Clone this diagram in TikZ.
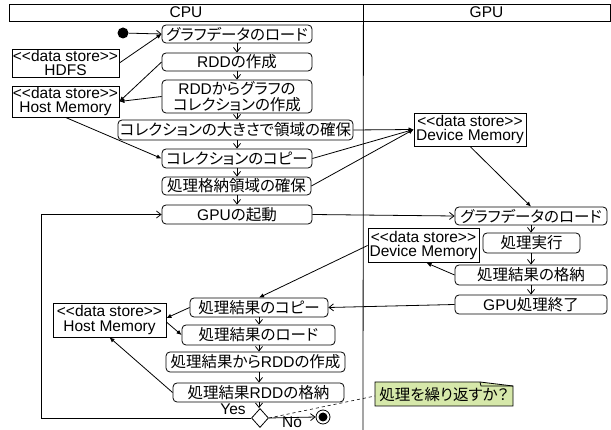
\documentclass[tikz,border=0pt]{standalone}
\usepackage{fontspec}
\setmainfont{Liberation Sans}
\newfontfamily\jpfont{Noto Sans CJK JP}[Scale=1.0,RawFeature={+palt}]
\newcommand{\jt}[1]{{\jpfont #1}}
\newcommand{\dstore}{<{}<data store>{}>}
\usetikzlibrary{arrows.meta,shapes.geometric}
\definecolor{notegreen}{RGB}{214,232,170}
\begin{document}
\begin{tikzpicture}[x=1pt,y=-1pt,line width=0.8pt,
  base/.style={font=\fontsize{15.5}{15}\selectfont, inner sep=0pt, align=center},
  act/.style={base, draw, rounded corners=4pt},
  store/.style={base, draw, font=\fontsize{15.5}{14.5}\selectfont},
  lane/.style={base, draw},
  ctl/.style={-{Straight Barb[length=4.5pt,width=7pt]}},
  obj/.style={-{Latex[length=5pt,width=4.5pt]}}]
\useasboundingbox (0,0) rectangle (611,430);
% lanes
\node[lane, minimum width=354pt, minimum height=17pt] (cpu) at (186,12.5) {CPU};
\node[lane, minimum width=247pt, minimum height=17pt] (gpu) at (486.5,12.5) {GPU};
\coordinate (divB) at (363,430);
\draw (cpu.south east) -- (divB);
% CPU upper
\node[fill, circle, minimum size=11pt, inner sep=0pt] (start) at (123,33) {};
\node[act, minimum width=150pt, minimum height=18pt] (a1) at (237,34) {\jt{グラフデータのロード}};
\node[store, minimum width=107pt, minimum height=28pt] (hdfs) at (65.5,63) {\dstore\\HDFS};
\node[act, minimum width=150pt, minimum height=18pt] (a2) at (237,62) {RDD\jt{の作成}};
\node[store, minimum width=107pt, minimum height=31pt] (hm1) at (65.5,101.5) {\dstore\\Host Memory};
\node[act, minimum width=150pt, minimum height=33pt, font=\fontsize{15.5}{16.5}\selectfont] (a3) at (237,96.5) {RDD\jt{からグラフの}\\\jt{コレクションの作成}};
\node[act, minimum width=235pt, minimum height=20pt] (a4) at (235.5,130) {\jt{コレクションの大きさで領域の確保}};
\node[act, minimum width=150pt, minimum height=19pt] (a5) at (237,158.5) {\jt{コレクションのコピー}};
\node[act, minimum width=149pt, minimum height=18pt] (a6) at (236.5,186) {\jt{処理格納領域の確保}};
\node[act, minimum width=150pt, minimum height=19pt] (a7) at (237,214.5) {GPU\jt{の起動}};
% GPU
\node[store, minimum width=112pt, minimum height=33pt] (dm1) at (470,129.5) {\dstore\\Device Memory};
\node[act, minimum width=152pt, minimum height=18pt] (g1) at (531,216) {\jt{グラフデータのロード}};
\node[store, minimum width=111pt, minimum height=34pt] (dm2) at (423.5,245.5) {\dstore\\Device Memory};
\node[act, minimum width=97pt, minimum height=20pt] (g2) at (531.5,243) {\jt{処理実行}};
\node[act, minimum width=152pt, minimum height=20pt] (g3) at (531,275) {\jt{処理結果の格納}};
\node[act, minimum width=152pt, minimum height=19pt] (g4) at (531,304.5) {GPU\jt{処理終了}};
% CPU lower
\node[act, minimum width=138pt, minimum height=19pt] (c1) at (259,307.5) {\jt{処理結果のコピー}};
\node[store, minimum width=113pt, minimum height=34pt] (hm2) at (109.5,320) {\dstore\\Host Memory};
\node[act, minimum width=153pt, minimum height=20pt] (c2) at (258.5,335) {\jt{処理結果のロード}};
\node[act, minimum width=179pt, minimum height=20pt] (c3) at (255.5,362) {\jt{処理結果から}RDD\jt{の作成}};
\node[act, minimum width=171pt, minimum height=19pt] (c4) at (258.5,392.5) {\jt{処理結果}RDD\jt{の格納}};
\node[draw, diamond, minimum width=17pt, minimum height=19pt, inner sep=0pt, fill=white] (dec) at (260,418) {};
\node[draw, circle, minimum size=14pt, inner sep=0pt] (fin) at (323,417) {};
\fill (fin.center) circle (4.5pt);
\node[base] (yes) at (233,409.5) {Yes};
\node[base] (no) at (292,422) {No};
% note
\path[fill=notegreen, draw] (375,382) -- (480,382) -- (513,386) -- (513,406) -- (375,406) -- cycle;
\draw (480,382) -- (481,386) -- (513,386);
\node[base] (note) at (444,394.5) {\jt{処理を繰り返すか？}};
\coordinate (noteL) at (375,396);
% control flows
\draw[ctl] (start) -- (a1.west);
\draw[ctl] (a1.south) -- (a2.north);
\draw[ctl] (a2.south) -- (a3.north);
\draw[ctl] (a3.south) -- (a3.south |- a4.north);
\draw[ctl] (a3.south |- a4.south) -- (a5.north);
\draw[ctl] (a5.south) -- (a5.south |- a6.north);
\draw[ctl] (a5.south |- a6.south) -- (a7.north);
\draw[ctl] (a7.east) -- (g1.west);
\draw[ctl] (g1.south) -- (g1.south |- g2.north);
\draw[ctl] (g1.south |- g2.south) -- (g3.north);
\draw[ctl] (g3.south) -- (g4.north);
\draw[ctl] (g4.west) -- (c1.east);
\draw[ctl] (c1.south) -- (c1.south |- c2.north);
\draw[ctl] (c1.south |- c2.south) -- (c1.south |- c3.north);
\draw[ctl] (c1.south |- c3.south) -- (c1.south |- c4.north);
\draw[ctl] (c1.south |- c4.south) -- (c1.south |- dec.north);
\draw[ctl] (dec.east) -- (fin.west);
\coordinate (lp) at (41,418);
\draw[ctl] (dec.west) -- (lp) |- (a7.west);
% object flows
\draw[obj] (hdfs.east) -- (a1.west);
\draw[obj] (a2.west) -- (hm1.east);
\draw[obj] (a3.west) -- (hm1.east);
\draw[obj] (hm1.south) -- (a5.west);
\draw[obj] (a4.east) -- (dm1.west);
\draw[obj] (a5.east) -- (dm1.west);
\draw[obj] (a6.east) -- (dm1.west);
\draw[obj] (dm1.south) -- (g1.north);
\draw[obj] (g3.west) -- ([xshift=3pt]dm2.south);
\draw[obj] (dm2.west) -- (c1.north);
\draw[obj] (c1.west) -- ([yshift=2pt]hm2.east);
\draw[obj] ([yshift=-2pt]hm2.east) -- (c2.west);
\draw[obj] (c4.west) -- (hm2.south);
% note link
\draw[dashed, line width=0.6pt] (dec.east) -- (noteL);
\end{tikzpicture}
\end{document}
